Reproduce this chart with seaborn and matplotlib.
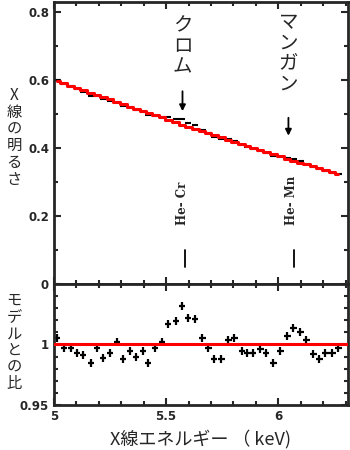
import numpy as np
import matplotlib
matplotlib.use("Agg")
import matplotlib.pyplot as plt
import seaborn as sns
from matplotlib.ticker import MultipleLocator

# -------------------------------
# Data
# -------------------------------
energy = [5.013, 5.045, 5.076, 5.103, 5.129, 5.165, 5.192, 5.219, 5.250, 5.281,
          5.308, 5.339, 5.366, 5.397, 5.420, 5.451, 5.482, 5.509, 5.545, 5.571,
          5.598, 5.629, 5.661, 5.688, 5.714, 5.746, 5.777, 5.804, 5.839, 5.862,
          5.888, 5.920, 5.946, 5.978, 6.009, 6.040, 6.067, 6.098, 6.125, 6.156,
          6.183, 6.210, 6.241, 6.268]
model = [0.597, 0.590, 0.583, 0.577, 0.571, 0.562, 0.556, 0.550, 0.543, 0.535,
         0.529, 0.522, 0.516, 0.509, 0.504, 0.497, 0.490, 0.483, 0.475, 0.469,
         0.463, 0.457, 0.450, 0.444, 0.438, 0.431, 0.424, 0.418, 0.411, 0.406,
         0.400, 0.393, 0.388, 0.381, 0.375, 0.369, 0.363, 0.357, 0.352, 0.346,
         0.341, 0.336, 0.330, 0.323]
ratio = [1.005, 0.997, 0.997, 0.993, 0.991, 0.985, 0.997, 0.989, 0.993, 1.002,
         0.988, 0.995, 0.990, 0.995, 0.985, 0.997, 1.002, 1.017, 1.019, 1.032,
         1.022, 1.021, 1.005, 0.997, 0.988, 0.988, 1.004, 1.005, 0.995, 0.993,
         0.993, 0.996, 0.993, 0.985, 0.995, 1.007, 1.014, 1.010, 1.004, 0.992,
         0.988, 0.993, 0.993, 0.997]
half_bin = 0.0145
ratio_err = 0.0033

# line markers: energy of tick, name label position, arrow span
lines = {"Cr": 5.585, "Mn": 6.07}
line_labels = {"Cr": "He- Cr", "Mn": "He- Mn"}
element_names = {"Cr": "クロム", "Mn": "マンガン"}
name_x = {"Cr": 5.573, "Mn": 6.045}
name_top = {"Cr": 0.79, "Mn": 0.80}
arrow_span = {"Cr": (0.575, 0.50), "Mn": (0.497, 0.428)}

energy = np.array(energy)
model = np.array(model)
ratio = np.array(ratio)
counts = model * ratio

# -------------------------------
# Style
# -------------------------------
sns.set_style("ticks")
jp = ["Noto Sans CJK JP", "DejaVu Sans"]
plt.rcParams["font.family"] = ["DejaVu Sans"]
plt.rcParams["axes.linewidth"] = 2.0

fig = plt.figure(figsize=(3.5, 4.5), dpi=100)
ax1 = fig.add_axes([0.154, 0.369, 0.840, 0.627])
ax2 = fig.add_axes([0.154, 0.100, 0.840, 0.269])

for ax in (ax1, ax2):
    ax.set_xlim(5, 6.31)
    ax.xaxis.set_major_locator(MultipleLocator(0.5))
    ax.xaxis.set_minor_locator(MultipleLocator(0.1))
    ax.tick_params(which="both", direction="in", top=True, right=True, width=1.5)
    ax.tick_params(which="major", length=5, labelsize=8.5)
    ax.tick_params(which="minor", length=3)

# -------------------------------
# Top panel: spectrum + model
# -------------------------------
ax1.errorbar(energy, counts, xerr=half_bin, yerr=0.002, fmt="none",
             ecolor="black", elinewidth=1.5, zorder=2)
sns.lineplot(x=energy, y=model, ax=ax1, color="red", lw=2.2,
             drawstyle="steps-mid", zorder=3)
ax1.set_ylim(0, 0.83)
ax1.yaxis.set_minor_locator(MultipleLocator(0.1))
ax1.set_yticks([0, 0.2, 0.4, 0.6, 0.8])
ax1.set_yticklabels(["0", "0.2", "0.4", "0.6", "0.8"], fontweight="bold")
ax1.tick_params(labelbottom=False)

for key, e in lines.items():
    ax1.text(name_x[key], name_top[key], "\n".join(element_names[key]), family=jp,
             fontsize=14, ha="center", va="top", linespacing=0.98)
    a0, a1 = arrow_span[key]
    ax1.annotate("", xy=(name_x[key], a1), xytext=(name_x[key], a0),
                 arrowprops=dict(arrowstyle="-|>", color="black", lw=1.3,
                                 mutation_scale=9))
    ax1.text(e - 0.012, 0.172, line_labels[key], rotation=90, fontsize=8.5,
             fontweight="bold", family="DejaVu Serif", ha="center", va="bottom")
    ax1.plot([e, e], [0.05, 0.10], color="black", lw=1.3)

ax1.text(-0.135, 0.52, "\n".join("X線の明るさ"), transform=ax1.transAxes,
         family=jp, fontsize=11, ha="center", va="center", linespacing=0.98)

# -------------------------------
# Bottom panel: data / model ratio
# -------------------------------
ax2.axhline(1.0, color="red", lw=2.2, zorder=3)
ax2.errorbar(energy, ratio, xerr=half_bin, yerr=ratio_err, fmt="none",
             ecolor="black", elinewidth=1.6, zorder=2)
ax2.set_ylim(0.95, 1.05)
ax2.set_yticks([0.95, 1.0])
ax2.set_yticklabels(["0.95", "1"], fontweight="bold")
ax2.yaxis.set_minor_locator(MultipleLocator(0.01))
ax2.set_xticks([5, 5.5, 6])
ax2.set_xticklabels(["5", "5.5", "6"], fontweight="bold")
ax2.set_xlabel("X線エネルギー （ keV)", family=jp, fontsize=13, labelpad=5)

ax2.text(-0.135, 0.52, "\n".join("モデルとの比"), transform=ax2.transAxes,
         family=jp, fontsize=11, ha="center", va="center", linespacing=0.98)

fig.savefig("out.png", dpi=100)
